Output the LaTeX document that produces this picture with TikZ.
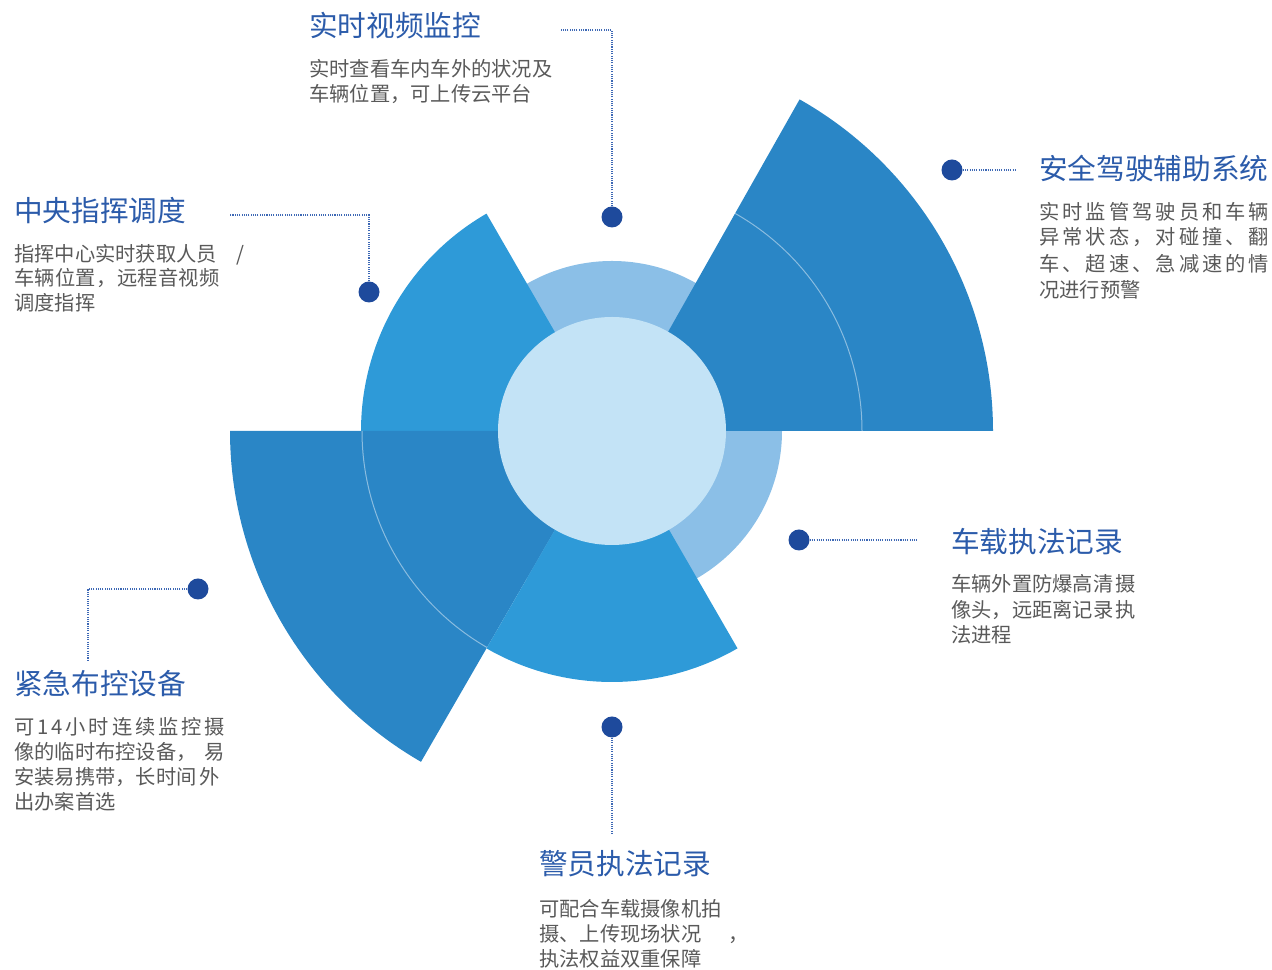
\documentclass[tikz,border=0pt]{standalone}
\usepackage{fontspec}
\setmainfont{Noto Sans CJK SC}
\definecolor{darkseg}{HTML}{2A86C6}
\definecolor{brightseg}{HTML}{2E9AD8}
\definecolor{ringcol}{HTML}{8BBFE7}
\definecolor{innercol}{HTML}{C3E3F6}
\definecolor{dotblue}{HTML}{1E4A9C}
\definecolor{titleblue}{HTML}{2B5BAA}
\definecolor{bodygrey}{HTML}{595959}
\definecolor{lineblue}{HTML}{3D68B5}
\def\sprd#1#2{\hbox to #1{\sprdaux#2\sprdend}}
\def\sprdaux#1#2\sprdend{#1\if\relax\detokenize{#2}\relax\else\hfil\sprdaux#2\sprdend\fi}
\begin{document}
\begin{tikzpicture}[x=0.75pt,y=0.75pt,
  title/.style={anchor=base west, inner sep=0, text=titleblue, font=\fontsize{21.5}{26}\selectfont},
  body/.style={anchor=base west, inner sep=0, text=bodygrey, font=\fontsize{15.2}{19}\selectfont},
  dot/.style={circle, fill=dotblue, inner sep=0, minimum size=15.75pt},
  conn/.style={draw=lineblue, line width=0.8pt, dash pattern=on 0.8pt off 0.9pt},
  seam/.style={draw=white, draw opacity=0.45, line width=0.75pt}]
\useasboundingbox (0,0) rectangle (1272,970);
\coordinate (c) at (612,539);
% rings and sectors
\fill[ringcol] (c) circle[radius=170];
\fill[darkseg] (c) -- (993,539) arc[start angle=0,end angle=60.5,radius=381] -- cycle;
\fill[brightseg] (c) -- (361,539) arc[start angle=180,end angle=120,radius=251] -- cycle;
\fill[darkseg] (c) -- (230,539) arc[start angle=180,end angle=240,radius=382] -- cycle;
\fill[brightseg] (c) -- +(240:251) arc[start angle=240,end angle=300,radius=251] -- cycle;
\draw[seam] (862,539) arc[start angle=0,end angle=60.5,radius=250];
\draw[seam] (362,539) arc[start angle=180,end angle=240,radius=250];
\fill[innercol] (c) circle[radius=114];
% dots
\node[dot] (d1) at (612,753) {};
\node[dot] (d2) at (369,678) {};
\node[dot] (d3) at (952,800) {};
\node[dot] (d4) at (799,430) {};
\node[dot] (d5) at (198,381) {};
\node[dot] (d6) at (612,243) {};
% connector ends
\coordinate (k1) at (612,940); \coordinate (e1) at (560,940);
\coordinate (k2) at (369,755); \coordinate (e2) at (230,755);
\coordinate (e3) at (1015,800);
\coordinate (e4) at (918,430);
\coordinate (k5) at (88,381); \coordinate (e5) at (88,310);
\coordinate (e6) at (612,135);
\draw[conn] (d1) -- (k1) -- (e1);
\draw[conn] (d2) -- (k2) -- (e2);
\draw[conn] (d3) -- (e3);
\draw[conn] (d4) -- (e4);
\draw[conn] (d5) -- (k5) -- (e5);
\draw[conn] (d6) -- (e6);
% texts: 实时视频监控
\node[title] (t1) at (309,933) {实时视频监控};
\node[body] (t1a) at (309,893.8) {实时查看车内车外的状况及};
\node[body] (t1b) at (309,868.8) {车辆位置，可上传云平台};
% 中央指挥调度
\node[title] (t2) at (14,748.5) {中央指挥调度};
\node[body] (t2a) at (14,708.8) {\hbox to 172.5pt{指挥中心实时获取人员\hfil /}};
\node[body] (t2b) at (14,684.3) {\sprd{154pt}{车辆位置，远程音视频}};
\node[body] (t2c) at (14,659.3) {调度指挥};
% 安全驾驶辅助系统
\node[title] (t3) at (1039,790.5) {安全驾驶辅助系统};
\node[body] (t3a) at (1039,750.8) {\sprd{172.5pt}{实时监管驾驶员和车辆}};
\node[body] (t3b) at (1039,725.3) {\sprd{172.5pt}{异常状态，对碰撞、翻}};
\node[body] (t3c) at (1039,698.8) {\sprd{172.5pt}{车、超速、急减速的情}};
\node[body] (t3d) at (1039,672.3) {况进行预警};
% 车载执法记录
\node[title] (t4) at (951,417.5) {车载执法记录};
\node[body] (t4a) at (951,378.3) {\hbox to 138.5pt{车辆外置防爆高清\hfil 摄}};
\node[body] (t4b) at (951,352.8) {\hbox to 138.5pt{像头，远距离记录\hfil 执}};
\node[body] (t4c) at (951,327.3) {法进程};
% 紧急布控设备
\node[title] (t5) at (14,275.5) {紧急布控设备};
\node[body] (t5a) at (14,235.3) {\sprd{158pt}{可14小时连续监控摄}};
\node[body] (t5b) at (14,210.3) {\hbox to 158pt{像的临时布控设备，\hfil 易}};
\node[body] (t5c) at (14,185.3) {\hbox to 154pt{安装易携带，长时间\hfil 外}};
\node[body] (t5d) at (14,160.3) {出办案首选};
% 警员执法记录
\node[title] (t6) at (539,95.5) {警员执法记录};
\node[body] (t6a) at (539,53.8) {可配合车载摄像机拍};
\node[body] (t6b) at (539,28.8) {\hbox to 157pt{摄、上传现场状况\hfil ，}};
\node[body] (t6c) at (539,3.8) {执法权益双重保障};
\end{tikzpicture}
\end{document}
